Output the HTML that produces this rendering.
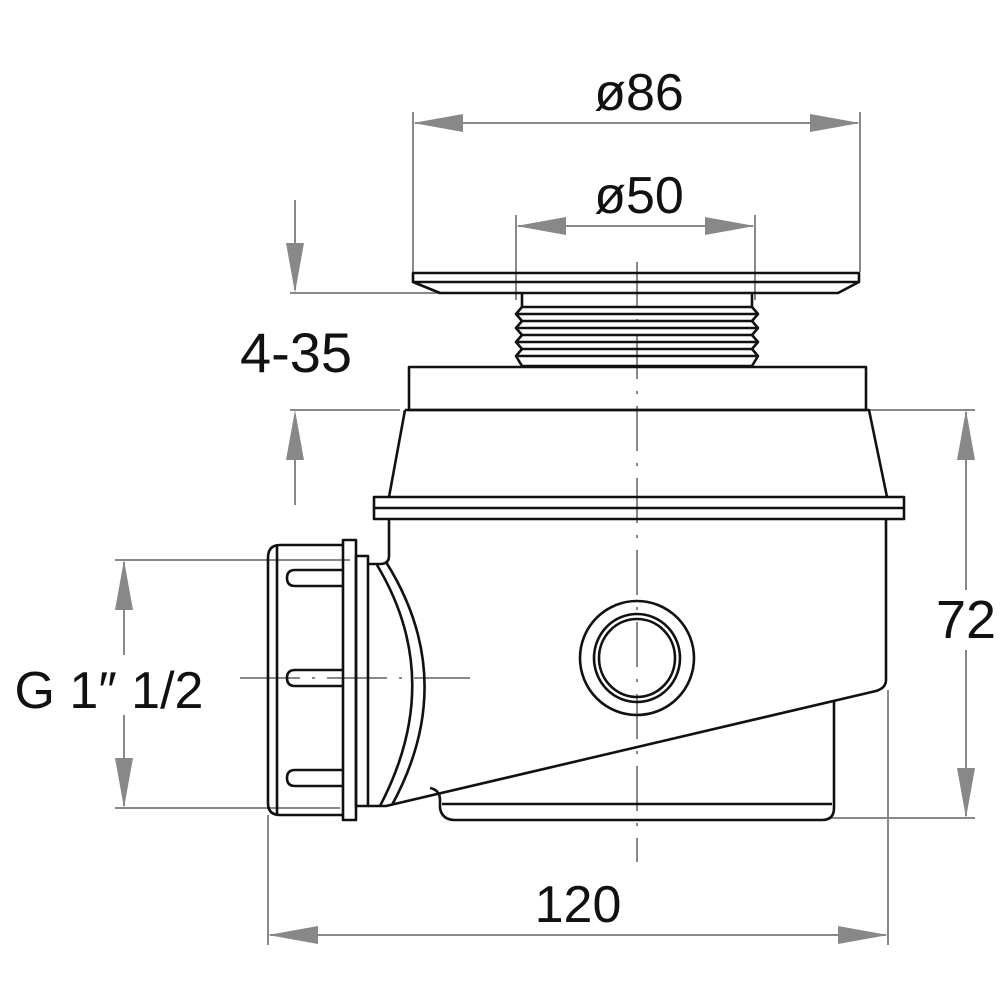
<!DOCTYPE html>
<html><head><style>html,body{margin:0;padding:0;background:#fff}svg{display:block}</style></head>
<body>
<svg width="1000" height="1000" viewBox="0 0 1000 1000" xmlns="http://www.w3.org/2000/svg">
<g stroke="#888" stroke-width="2" fill="none">
<line x1="413" y1="112" x2="413" y2="272"/><line x1="860" y1="112" x2="860" y2="272"/>
<line x1="516" y1="215" x2="516" y2="300"/><line x1="755" y1="215" x2="755" y2="300"/>
<line x1="295" y1="200" x2="295" y2="290"/><line x1="295" y1="415" x2="295" y2="505"/>
<line x1="290" y1="293" x2="440" y2="293"/><line x1="290" y1="410" x2="400" y2="410"/>
<line x1="870" y1="410" x2="975" y2="410"/><line x1="830" y1="818" x2="975" y2="818"/>
<line x1="966" y1="412" x2="966" y2="590"/><line x1="966" y1="650" x2="966" y2="816"/>
<line x1="115" y1="560" x2="350" y2="560"/><line x1="115" y1="808" x2="340" y2="808"/>
<line x1="124" y1="562" x2="124" y2="655"/><line x1="124" y1="715" x2="124" y2="806"/>
<line x1="240" y1="678" x2="470" y2="678" stroke-dasharray="60 12 3 12"/>
<line x1="268" y1="815" x2="268" y2="945"/><line x1="888" y1="690" x2="888" y2="945"/>
<line x1="270" y1="935" x2="886" y2="935"/>
<line x1="415" y1="123" x2="858" y2="123"/>
<line x1="518" y1="226" x2="753" y2="226"/>
<line x1="637" y1="262" x2="637" y2="862" stroke-dasharray="45 12 3 12"/>
</g>
<g fill="#888">
<path d="M413 123 L463 114 L463 132 Z"/><path d="M860 123 L810 114 L810 132 Z"/>
<path d="M516 226 L566 217 L566 235 Z"/><path d="M755 226 L705 217 L705 235 Z"/>
<path d="M295 293 L286 243 L304 243 Z"/><path d="M295 410 L286 460 L304 460 Z"/>
<path d="M966 410 L957 460 L975 460 Z"/><path d="M966 818 L957 768 L975 768 Z"/>
<path d="M124 560 L115 610 L133 610 Z"/><path d="M124 808 L115 758 L133 758 Z"/>
<path d="M268 935 L318 926 L318 944 Z"/><path d="M888 935 L838 926 L838 944 Z"/>
</g>
<g stroke="#111" stroke-width="2.6" fill="none" stroke-linejoin="round">
<path d="M413 273 H859 V282 L838 293 H440 L413 282 Z"/>
<line x1="413" y1="282" x2="859" y2="282"/>
<path d="M522 293 V307 M752 293 V307"/>
<path d="M522 307 H752 L758 314 L752 321 L758 328 L752 335 L758 342 L752 349 L758 356 L752 366 H522 L516 356 L522 349 L516 342 L522 335 L516 328 L522 321 L516 314 Z"/>
<line x1="520" y1="321" x2="754" y2="321"/><line x1="520" y1="335" x2="754" y2="335"/><line x1="520" y1="349" x2="754" y2="349"/>
<line x1="518" y1="314" x2="756" y2="314"/><line x1="518" y1="328" x2="756" y2="328"/><line x1="518" y1="342" x2="756" y2="342"/><line x1="518" y1="356" x2="756" y2="356"/>
<rect x="409" y="367" width="457" height="43"/>
<path d="M405 410 H869 L887 497 M405 410 L389 497"/>
<rect x="374" y="497" width="530" height="22"/>
<line x1="374" y1="508" x2="904" y2="508"/>
<path d="M389 519 V556 Q389 564 380 564 H368"/>
<path d="M886 519 V680 Q886 688 876 691 L386 806 H368"/>
<path d="M386 562 Q460 680 392 805 M377 565 Q446 680 380 806"/>
<path d="M430 788 Q440 790 440 800 V808 Q442 820 455 820 H822 Q834 820 834 808 V700"/>
<line x1="442" y1="804" x2="832" y2="804"/>
<path d="M343 545 H280 Q268 545 268 558 V803 Q268 815 280 815 H343"/>
<line x1="277" y1="546" x2="277" y2="814"/>
<rect x="343" y="540" width="13" height="280"/>
<rect x="356" y="556" width="12" height="250"/>
<path d="M343 570 H295 Q287 570 287 578 Q287 586 295 586 H343"/>
<path d="M343 670 H295 Q287 670 287 678 Q287 686 295 686 H343"/>
<path d="M343 770 H295 Q287 770 287 778 Q287 786 295 786 H343"/>
<ellipse cx="637" cy="658" rx="57" ry="57"/>
<ellipse cx="637" cy="658" rx="43" ry="44"/>
<ellipse cx="637" cy="658" rx="38" ry="39"/>
</g>
<g font-family="'Liberation Sans',sans-serif" font-size="52" fill="#111" text-anchor="middle">
<text x="639" y="110">ø86</text>
<text x="639" y="213">ø50</text>
<text x="296" y="372" font-size="56">4-35</text>
<text x="966" y="638" font-size="54">72</text>
<text x="109" y="708">G 1″ 1/2</text>
<text x="578" y="922">120</text>
</g>
</svg>
</body></html>
